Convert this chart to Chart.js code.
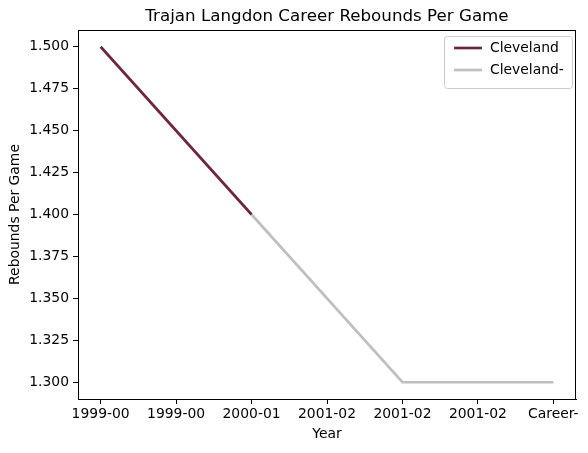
<!DOCTYPE html>
<html>
<head>
<meta charset="utf-8">
<script src="https://cdn.jsdelivr.net/npm/chart.js@4"></script>
<style>
  html, body { margin: 0; padding: 0; background: #fff; }
  #wrap { width: 588px; height: 453px; }
</style>
</head>
<body>
<div id="wrap"><canvas id="chart" width="588" height="453"></canvas></div>
<script>
// values
const tickPositions = [0, 0.5, 1, 1.5, 2, 2.5, 3];
const tickLabels = ['1999-00', '1999-00', '2000-01', '2001-02', '2001-02', '2001-02', 'Career-'];
const clevelandX = [0, 1];
const clevelandY = [1.5, 1.4];
const clevelandTailX = [1, 2, 3];
const clevelandTailY = [1.4, 1.3, 1.3];
const yTicks = [1.3, 1.325, 1.35, 1.375, 1.4, 1.425, 1.45, 1.475, 1.5];
const chartTitle = 'Trajan Langdon Career Rebounds Per Game';

const FONT = 'DejaVu Sans';

function toPoints(xs, ys) {
    return xs.map((x, i) => ({ x: x, y: ys[i] }));
}

// title over the plot area, top/right spines and the legend box, matplotlib style
const framePlugin = {
    id: 'frame',
    afterDraw(chart) {
        const { ctx, chartArea: a } = chart;
        ctx.save();
        ctx.strokeStyle = '#000';
        ctx.lineWidth = 1;
        ctx.strokeRect(a.left + 0.5, a.top + 0.5, a.right - a.left - 1, a.bottom - a.top);

        ctx.fillStyle = '#000';
        ctx.font = '16.7px ' + FONT;
        ctx.textAlign = 'center';
        ctx.textBaseline = 'middle';
        ctx.fillText(chartTitle, (a.left + a.right) / 2, 17);

        // legend
        const sets = chart.data.datasets;
        const bx = a.right - 132, by = 36, bw = 128, bh = 52;
        ctx.fillStyle = 'rgba(255,255,255,0.8)';
        ctx.strokeStyle = '#cccccc';
        ctx.beginPath();
        ctx.roundRect(bx + 0.5, by + 0.5, bw, bh, 3);
        ctx.fill();
        ctx.stroke();
        ctx.font = '13.9px ' + FONT;
        ctx.textAlign = 'left';
        sets.forEach((ds, i) => {
            const y = by + 12 + i * 22;
            ctx.strokeStyle = ds.borderColor;
            ctx.lineWidth = 2.7;
            ctx.beginPath();
            ctx.moveTo(bx + 10, y);
            ctx.lineTo(bx + 38, y);
            ctx.stroke();
            ctx.fillStyle = '#000';
            ctx.fillText(ds.label, bx + 46, y);
        });
        ctx.restore();
    }
};

new Chart(document.getElementById('chart'), {
    type: 'line',
    data: {
        datasets: [{
            label: 'Cleveland',
            data: toPoints(clevelandX, clevelandY),
            borderColor: '#6f263d',
            borderWidth: 2.7,
            pointRadius: 0,
            fill: false,
        }, {
            label: 'Cleveland-',
            data: toPoints(clevelandTailX, clevelandTailY),
            borderColor: '#bfbfbf',
            borderWidth: 2.7,
            pointRadius: 0,
            fill: false,
        }],
    },
    options: {
        responsive: false,
        animation: false,
        layout: { padding: { left: 0, right: 12, top: 30, bottom: 0 } },
        plugins: {
            legend: { display: false },
            tooltip: { enabled: false },
            title: { display: false },
        },
        scales: {
            x: {
                type: 'linear',
                min: -0.15,
                max: 3.15,
                afterBuildTicks: (axis) => { axis.ticks = tickPositions.map(v => ({ value: v })); },
                afterFit: (axis) => { axis.height = 54; },
                ticks: {
                    color: '#000',
                    font: { family: FONT, size: 13.9 },
                    padding: 2,
                    maxRotation: 0,
                    autoSkip: false,
                    callback: (v) => tickLabels[tickPositions.indexOf(v)],
                },
                grid: { drawOnChartArea: false, drawTicks: true, tickLength: 5, color: '#000' },
                border: { display: true, color: '#000', width: 1 },
                title: {
                    display: true,
                    text: 'Year',
                    color: '#000',
                    font: { family: FONT, size: 13.9 },
                    padding: { top: 0, bottom: 10 },
                },
            },
            y: {
                type: 'linear',
                min: 1.29,
                max: 1.51,
                afterBuildTicks: (axis) => { axis.ticks = yTicks.map(v => ({ value: v })); },
                afterFit: (axis) => { axis.width = 78; },
                ticks: {
                    color: '#000',
                    font: { family: FONT, size: 13.9 },
                    padding: 4,
                    callback: (v) => v.toFixed(3),
                },
                grid: { drawOnChartArea: false, drawTicks: true, tickLength: 5, color: '#000' },
                border: { display: true, color: '#000', width: 1 },
                title: {
                    display: true,
                    text: 'Rebounds Per Game',
                    color: '#000',
                    font: { family: FONT, size: 13.9 },
                    padding: { top: 7, bottom: 0 },
                },
            },
        },
    },
    plugins: [framePlugin],
});
</script>
</body>
</html>
